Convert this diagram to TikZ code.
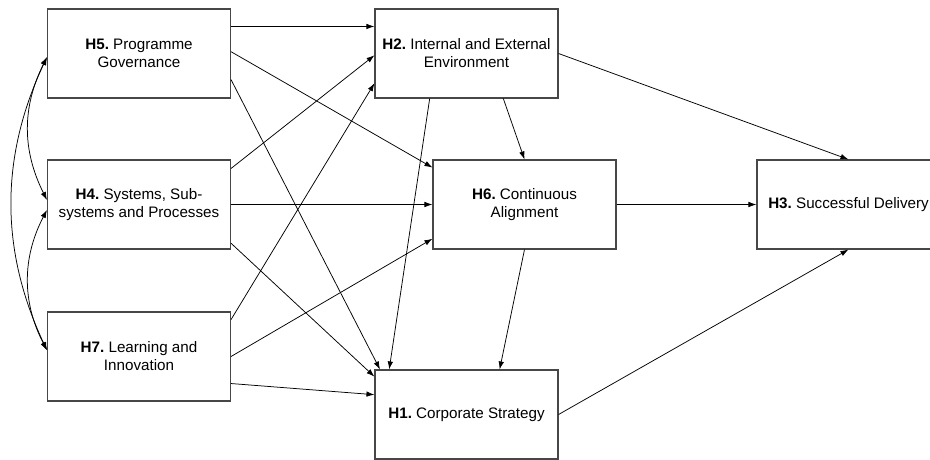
\documentclass[tikz,border=0pt]{standalone}
\usepackage{fontspec}
\setmainfont{Liberation Sans}
\usetikzlibrary{arrows.meta,calc}
\frenchspacing
\begin{document}
\begin{tikzpicture}[x=1pt,y=-1pt,
  box/.style={draw=black!72,line width=1.1pt,minimum width=183pt,minimum height=89pt,inner sep=0pt,align=center,font=\fontsize{15.2}{18}\selectfont},
  link/.style={line width=0.75pt,-{Latex[length=8pt,width=5.5pt]}},
  both/.style={line width=0.75pt,{Latex[length=8pt,width=5.5pt]}-{Latex[length=8pt,width=5.5pt]}}]
\clip (0,0) rectangle (930,459);
\fill[white] (0,0) rectangle (930,459);
% boxes
\node[box] (H5) at (139,53.5) {\textbf{H5.} Programme\\Governance};
\node[box] (H4) at (139,204.5) {\textbf{H4.} Systems, Sub-\\systems and Processes};
\node[box] (H7) at (139,356.5) {\textbf{H7.} Learning and\\Innovation};
\node[box] (H2) at (466.5,53.5) {\textbf{H2.} Internal and External\\Environment};
\node[box] (H6) at (524.5,204.5) {\textbf{H6.} Continuous\\Alignment};
\node[box] (H1) at (466.5,414.5) {\textbf{H1.} Corporate Strategy};
\node[box] (H3) at (848.5,204.5) {\textbf{H3.} Successful Delivery};
% connectors from the left column
\draw[link] ($(H5.north east)!0.2!(H5.south east)$) -- ($(H2.north west)!0.2!(H2.south west)$);
\draw[link] ($(H5.north east)!0.48!(H5.south east)$) -- ($(H6.north west)!0.09!(H6.south west)$);
\draw[link] ($(H5.north east)!0.79!(H5.south east)$) -- ($(H1.north west)!0.03!(H1.north east)$);
\draw[link] ($(H4.north east)!0.1!(H4.south east)$) -- ($(H2.north west)!0.52!(H2.south west)$);
\draw[link] (H4.east) -- (H6.west);
\draw[link] ($(H4.north east)!0.93!(H4.south east)$) -- ($(H1.north west)!0.08!(H1.south west)$);
\draw[link] ($(H7.north east)!0.09!(H7.south east)$) -- ($(H2.north west)!0.83!(H2.south west)$);
\draw[link] (H7.east) -- ($(H6.north west)!0.88!(H6.south west)$);
\draw[link] ($(H7.north east)!0.8!(H7.south east)$) -- ($(H1.north west)!0.28!(H1.south west)$);
% middle connectors
\draw[link] ($(H2.south west)!0.7!(H2.south east)$) -- (H6.north);
\draw[link] ($(H2.south west)!0.3!(H2.south east)$) -- ($(H1.north west)!0.08!(H1.north east)$);
\draw[link] (H6.south) -- ($(H1.north west)!0.68!(H1.north east)$);
\draw[link] (H2.east) -- (H3.north);
\draw[link] (H6.east) -- (H3.west);
\draw[link] (H1.east) -- (H3.south);
% correlations on the left
\coordinate (a5) at ($(H5.north west)!0.54!(H5.south west)$);
\coordinate (a4t) at ($(H4.north west)!0.45!(H4.south west)$);
\coordinate (a4b) at ($(H4.north west)!0.56!(H4.south west)$);
\coordinate (a7) at ($(H7.north west)!0.43!(H7.south west)$);
\draw[both] (a5) .. controls ($(a5)+(-25,50)$) and ($(a4t)+(-25,-50)$) .. (a4t);
\draw[both] (a4b) .. controls ($(a4b)+(-25,48)$) and ($(a7)+(-25,-48)$) .. (a7);
\draw[both] (a5) .. controls ($(a5)+(-47,100)$) and ($(a7)+(-47,-100)$) .. (a7);
\end{tikzpicture}
\end{document}
